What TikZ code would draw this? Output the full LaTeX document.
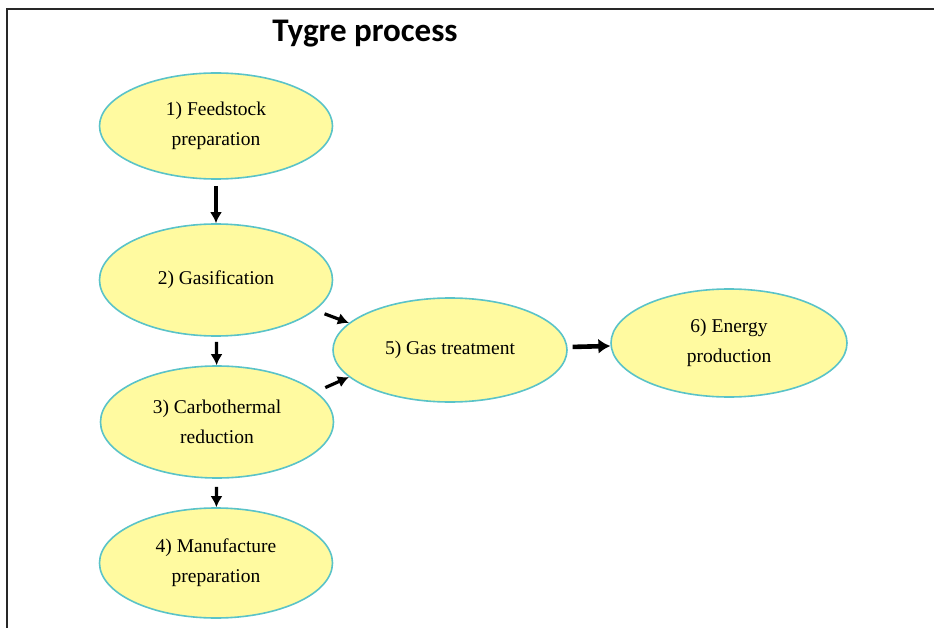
\documentclass[tikz,border=0pt]{standalone}
\usepackage{fontspec}
\setmainfont{Liberation Serif}
\newfontfamily\titlefont{Carlito}
\usetikzlibrary{positioning,arrows.meta,shapes.geometric}
\definecolor{stagefill}{RGB}{255,250,160}
\definecolor{stageline}{RGB}{90,195,200}
\definecolor{framegray}{RGB}{40,40,40}
\tikzset{
  flowarrow/.style={-{Latex[length=11pt,width=12pt]}, line width=3.2pt},
  bigarrow/.style={-{Latex[length=12pt,width=15pt]}, line width=4.6pt},
  stagenode/.style={draw=stageline, ellipse, line width=1.6pt, fill=stagefill, minimum width=233pt, minimum height=108pt, align=center, inner sep=0pt, font=\fontsize{19.5}{30}\selectfont},
  titlelabel/.style={font=\titlefont\bfseries\fontsize{33}{36}\selectfont}
}
\begin{document}
\begin{tikzpicture}[x=1pt, y=-1pt]
  \useasboundingbox (0,0) rectangle (934,628);
  % frame
  \draw[framegray, line width=2pt] (6.5,628) -- (6.5,9.5) -- (934,9.5);
  \node[titlelabel] (title) at (365,34) {Tygre process};
  % stages
  \node[stagenode, minimum height=106pt] (feed) at (216,126) {1) Feedstock\\preparation};
  \node[stagenode, minimum height=112pt] (gasif) at (216,280) {2) Gasification};
  \node[stagenode, minimum height=112pt] (carbo) at (217,422) {3) Carbothermal\\reduction};
  \node[stagenode, minimum height=110pt] (manuf) at (216,563) {4) Manufacture\\preparation};
  \node[stagenode, minimum width=234pt, minimum height=104pt] (gastreat) at (450,350) {5) Gas treatment};
  \node[stagenode, minimum width=236pt, minimum height=108pt] (energy) at (729,343) {6) Energy\\production};
  % flow
  \draw[flowarrow, shorten <=6pt] (feed) -- (gasif);
  \draw[flowarrow, shorten <=5pt] (gasif) -- (carbo);
  \draw[flowarrow, shorten <=8pt] (carbo) -- (manuf);
  \draw[flowarrow, shorten <=10pt] (gasif.-17) -- (gastreat.165);
  \draw[flowarrow, shorten <=10pt] (carbo.17) -- (gastreat.195);
  \draw[bigarrow, shorten <=5pt] (gastreat) -- (energy);
\end{tikzpicture}
\end{document}
